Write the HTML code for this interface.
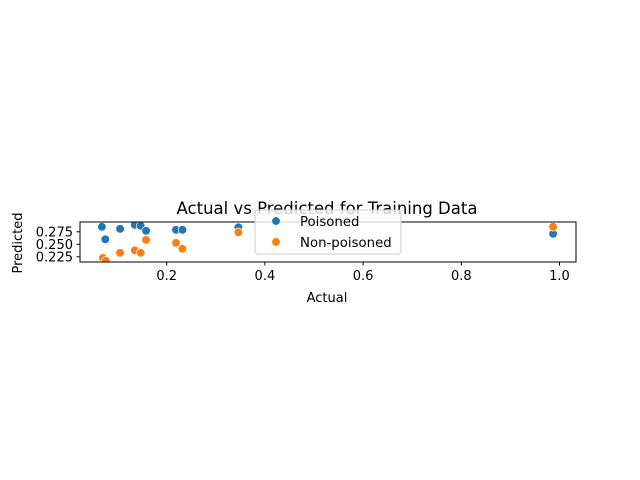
<!DOCTYPE html>
<html><head><meta charset="utf-8"><style>
body{margin:0;background:#fff}
svg{display:block;font-family:"DejaVu Sans","Liberation Sans",sans-serif}
</style></head><body>
<svg id="chart" width="640" height="480">
<defs><clipPath id="clip"><rect x="80" y="222" width="496" height="40"/></clipPath></defs>
<rect x="0" y="0" width="640" height="480" fill="#fff"/>
<g id="marks" clip-path="url(#clip)"></g>
<rect x="80" y="222" width="496" height="40" fill="none" stroke="#000" stroke-width="1"/>
<g id="xticks"></g><g id="yticks"></g>
<text x="327" y="214" font-size="16.5" text-anchor="middle">Actual vs Predicted for Training Data</text>
<text x="327" y="302" font-size="13" text-anchor="middle">Actual</text>
<text x="22" y="243" font-size="13" text-anchor="middle" transform="rotate(-90 22 243)">Predicted</text>
<g>
<rect x="255" y="210" width="146" height="44" rx="3" fill="#fff" fill-opacity="0.8" stroke="#ccc"/>
<g><circle cx="276" cy="221" r="4.3" fill="#1f77b4" stroke="#fff" stroke-width="0.7"/><text x="300" y="226" font-size="13.3">Poisoned</text></g>
<g><circle cx="276" cy="242" r="4.3" fill="#ff7f0e" stroke="#fff" stroke-width="0.7"/><text x="300" y="247" font-size="13.3">Non-poisoned</text></g>
</g>
</svg>
<script>
const actual = [0.068,0.075,0.105,0.135,0.147,0.158,0.219,0.232,0.346,0.987];
const poisonedPred = [0.285,0.260,0.281,0.289,0.287,0.277,0.279,0.279,0.284,0.271];
const actualNP = [0.070,0.076,0.105,0.135,0.147,0.158,0.219,0.232,0.346,0.987];
const nonPoisonedPred = [0.223,0.217,0.233,0.238,0.233,0.259,0.253,0.241,0.274,0.285];
const xTickVals = [0.2,0.4,0.6,0.8,1.0];
const xTickLabels = ["0.2","0.4","0.6","0.8","1.0"];
const yTickVals = [0.275,0.25,0.225];
const yTickLabels = ["0.275","0.250","0.225"];
const NS="http://www.w3.org/2000/svg";
const xs = v => 68.5 + v*491;
const ys = v => 244.3 - (v-0.25)*500;
const marks=document.getElementById('marks');
function pts(xa,ya,color,name){
  xa.forEach((x,i)=>{
    const c=document.createElementNS(NS,'circle');
    c.setAttribute('cx',xs(x));c.setAttribute('cy',ys(ya[i]));c.setAttribute('r',4.3);
    c.setAttribute('fill',color);c.setAttribute('stroke','#fff');c.setAttribute('stroke-width',0.7);
    
    
    marks.appendChild(c);
  });
}
pts(actual,poisonedPred,'#1f77b4','poisoned-point');
pts(actualNP,nonPoisonedPred,'#ff7f0e','non-poisoned-point');
const xt=document.getElementById('xticks');
xTickVals.forEach((v,i)=>{
  const g=document.createElementNS(NS,'g');
  
  
  g.innerHTML=`<line x1="${xs(v)}" x2="${xs(v)}" y1="262" y2="265.5" stroke="#000"/><text x="${xs(v)}" y="280" font-size="13" text-anchor="middle">${xTickLabels[i]}</text>`;
  xt.appendChild(g);
});
const yt=document.getElementById('yticks');
yTickVals.forEach((v,i)=>{
  const g=document.createElementNS(NS,'g');
  
  
  g.innerHTML=`<line x1="76.5" x2="80" y1="${ys(v)}" y2="${ys(v)}" stroke="#000"/><text x="73" y="${ys(v)+4.6}" font-size="13" text-anchor="end">${yTickLabels[i]}</text>`;
  yt.appendChild(g);
});
</script>
</body></html>
